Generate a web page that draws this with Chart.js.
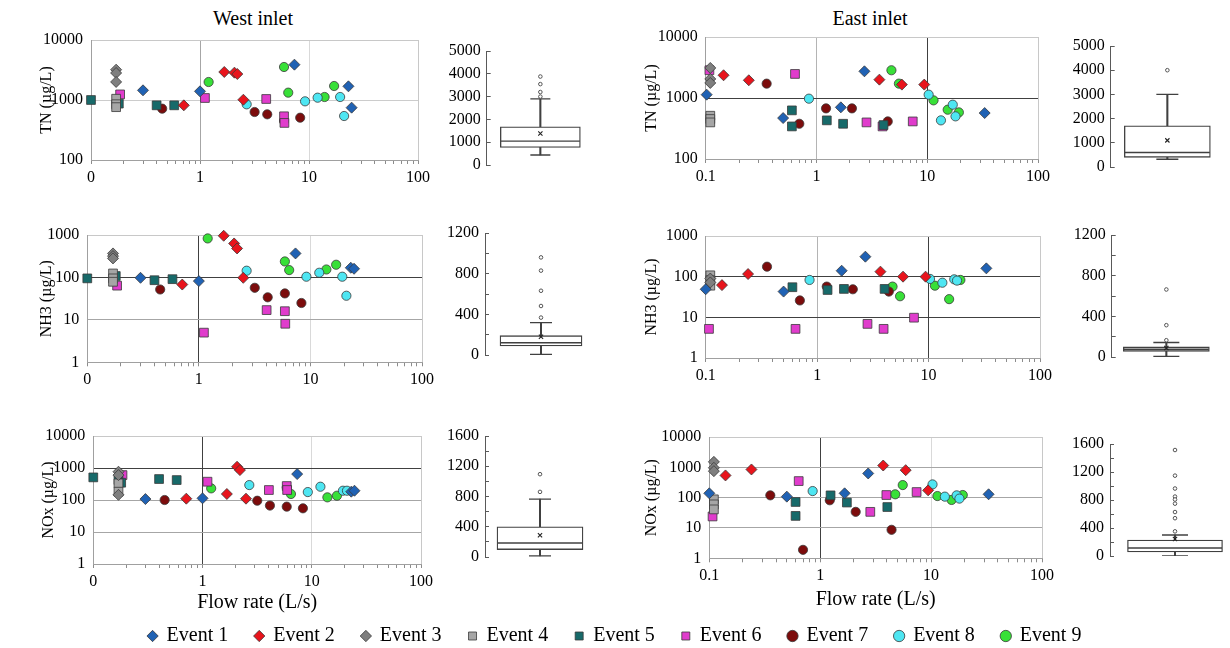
<!DOCTYPE html>
<html>
<head>
<meta charset="utf-8">
<script src="https://cdn.jsdelivr.net/npm/chart.js@4.4.1/dist/chart.umd.min.js"></script>
<style>
  html, body { margin: 0; padding: 0; background: #fff; overflow: hidden; }
  #page { position: relative; width: 1230px; height: 648px; overflow: hidden; font-family: 'Liberation Serif', 'Times New Roman', serif; }
  .head { position: absolute; top: 7px; font-size: 20px; color: #000; transform: translateX(-50%); white-space: nowrap; }
</style>
</head>
<body>
<div id="page">
  <div class="head" style="left:253px">West inlet</div>
  <div class="head" style="left:870px">East inlet</div>
</div>
<script>
        // events (legend order)
        const eventNames = ['Event 1', 'Event 2', 'Event 3', 'Event 4', 'Event 5', 'Event 6', 'Event 7', 'Event 8', 'Event 9'];
        const eventColors = ['#2062b4', '#e8141c', '#7f7f7f', '#a6a6a6', '#176a6a', '#e03ccc', '#7c0c0c', '#4ee6f2', '#38e038'];
        const eventShapes = ['rectRot', 'rectRot', 'rectRot', 'rect', 'rect', 'rect', 'circle', 'circle', 'circle'];
        const eventSizes = [5.5, 5.5, 5.5, 6.2, 6.2, 6.2, 4.6, 4.6, 4.6];

        // tick labels
        const westXTicks = ['0', '1', '10', '100'];
        const eastXTicks = ['0.1', '1', '10', '100'];
        const tnYTicks = [100, 1000, 10000];
        const nh3YTicks = [1, 10, 100, 1000];
        const noxYTicks = [1, 10, 100, 1000, 10000];

        // [flow rate (L/s), concentration (ug/L)] per event
        const westTN = [
            [[0.30, 1450], [1.0, 1395], [7.35, 3880], [23, 1690], [24.6, 745]],
            [[0.71, 815], [1.67, 2930], [2.07, 2855], [2.2, 2710], [2.5, 1010]],
            [[0.17, 3200], [0.17, 2820], [0.17, 2000]],
            [[0.17, 1050], [0.17, 850], [0.17, 760]],
            [[0.1, 1000], [0.18, 870], [0.40, 815], [0.58, 815]],
            [[0.185, 1240], [1.11, 1080], [4.05, 1040], [5.9, 535], [5.95, 415]],
            [[0.45, 717], [3.17, 631], [4.14, 577], [5.9, 447], [8.3, 507]],
            [[2.68, 847], [9.2, 950], [12.0, 1093], [19.3, 1122], [21, 541]],
            [[1.2, 1995], [5.9, 3548], [6.45, 1326], [13.9, 1122], [17, 1711]]
        ];
        const westNH3 = [
            [[0.30, 98], [1.0, 82], [7.35, 368], [23, 169], [24.6, 160]],
            [[0.71, 68], [1.67, 960], [2.07, 632], [2.2, 482], [2.5, 98]],
            [[0.17, 368], [0.17, 318], [0.17, 281]],
            [[0.17, 124], [0.17, 95], [0.17, 79]],
            [[0.1, 95], [0.18, 108], [0.40, 86], [0.58, 91]],
            [[0.185, 64], [1.11, 5.0], [4.05, 17], [5.9, 16], [5.95, 8.1]],
            [[0.45, 52], [3.17, 57], [4.14, 34], [5.9, 42], [8.3, 25]],
            [[2.68, 144], [9.2, 104], [12.0, 129], [19.3, 104], [21, 37]],
            [[1.2, 830], [5.9, 238], [6.45, 149], [13.9, 154], [17, 199]]
        ];
        const westNOx = [
            [[0.30, 107], [1.0, 113], [7.35, 646], [23, 182], [24.6, 195]],
            [[0.71, 110], [1.67, 154], [2.07, 1095], [2.2, 861], [2.5, 110]],
            [[0.17, 765], [0.17, 600], [0.17, 145]],
            [[0.17, 330], [0.17, 182]],
            [[0.1, 509], [0.17, 420], [0.18, 347], [0.40, 452], [0.58, 420]],
            [[0.185, 601], [1.11, 373], [4.05, 205], [5.9, 273], [5.95, 205]],
            [[0.45, 100], [3.17, 95], [4.14, 67], [5.9, 62], [8.3, 55]],
            [[2.68, 293], [9.2, 177], [12.0, 260], [19.3, 195], [21, 195]],
            [[1.2, 231], [5.9, 248], [6.45, 154], [13.9, 121], [17, 136]]
        ];
        const eastTN = [
            [[0.102, 1134], [0.5, 469], [1.66, 703], [2.71, 2740], [33, 567]],
            [[0.145, 2360], [0.245, 1952], [3.7, 2000], [5.9, 1657], [9.4, 1657]],
            [[0.11, 3110], [0.11, 2052], [0.11, 1765]],
            [[0.11, 512], [0.11, 452], [0.11, 398]],
            [[0.6, 627], [0.6, 342], [1.24, 430], [1.74, 378], [4.03, 360]],
            [[0.108, 2850], [0.64, 2480], [2.83, 398], [3.95, 342], [7.4, 413]],
            [[0.355, 1720], [0.7, 378], [1.22, 676], [2.09, 676], [4.4, 413]],
            [[0.855, 975], [10.3, 1134], [13.3, 430], [17, 777], [18, 500]],
            [[4.75, 2850], [5.55, 1720], [11.4, 915], [15.3, 643], [19.3, 581]]
        ];
        const eastNH3 = [
            [[0.1, 49], [0.5, 43], [1.66, 140], [2.71, 310], [33, 160]],
            [[0.14, 62], [0.24, 116], [3.7, 133], [5.9, 100], [9.4, 100]],
            [[0.11, 90], [0.11, 72]],
            [[0.11, 108], [0.11, 82], [0.11, 60]],
            [[0.6, 55], [1.24, 47], [1.74, 50], [4.03, 50]],
            [[0.107, 5.2], [0.64, 5.2], [2.83, 6.9], [3.95, 5.2], [7.4, 9.8]],
            [[0.355, 176], [0.7, 26], [1.22, 57], [2.09, 49], [4.4, 43]],
            [[0.855, 83], [10.3, 88], [13.3, 71], [17, 86], [18, 80]],
            [[4.75, 57], [5.55, 33], [11.4, 60], [15.3, 28], [19.3, 83]]
        ];
        const eastNOx = [
            [[0.1, 139], [0.5, 108], [1.66, 139], [2.71, 628], [33, 129]],
            [[0.14, 540], [0.24, 849], [3.7, 1148], [5.9, 807], [9.4, 174]],
            [[0.11, 1514], [0.11, 964], [0.11, 748]],
            [[0.11, 88], [0.11, 60], [0.11, 41]],
            [[0.6, 72], [0.6, 25], [1.24, 119], [1.74, 69], [4.03, 49]],
            [[0.107, 24], [0.64, 352], [2.83, 34], [3.95, 122], [7.4, 153]],
            [[0.355, 119], [0.7, 1.9], [1.22, 82], [2.09, 34], [4.4, 8.7]],
            [[0.855, 165], [10.3, 273], [13.3, 108], [17, 119], [18, 93]],
            [[4.75, 129], [5.55, 260], [11.4, 113], [15.3, 84], [19.3, 122]]
        ];

        // box plots: [lower whisker, Q1, median, Q3, upper whisker]
        const westTNBox = [437, 773, 1048, 1672, 2900];
        const westTNMean = 1384;
        const westTNOut = [3880, 3548, 3200, 3000];
        const westNH3Box = [5, 89, 121, 190, 318];
        const westNH3Mean = 180;
        const westNH3Out = [960, 830, 632, 482, 368];
        const westNOxBox = [15, 98, 186, 398, 765];
        const westNOxMean = 288;
        const westNOxOut = [1095, 861];
        const eastTNBox = [320, 400, 600, 1700, 3000];
        const eastTNMean = 1100;
        const eastTNOut = [4000];
        const eastNH3Box = [5, 56, 76, 99, 142];
        const eastNH3Mean = 89;
        const eastNH3Out = [664, 313, 165];
        const eastNOxBox = [2, 57, 114, 229, 300];
        const eastNOxMean = 243;
        const eastNOxOut = [1514, 1148, 964, 849, 807, 748, 628, 540, 352];

        const SERIF = "'Liberation Serif', 'Times New Roman', serif";
        const M = 20; // canvas margin around the plot area
        const DK = '#404040', MD = '#a6a6a6', LT = '#d9d9d9', FRAME = '#c8c8c8', AXIS = '#a0a0a0';

        function addCanvas(left, top, w, h) {
            const c = document.createElement('canvas');
            c.width = Math.round(w);
            c.height = Math.round(h);
            c.style.cssText = `position:absolute;left:${left}px;top:${top}px;width:${Math.round(w)}px;height:${Math.round(h)}px`;
            document.getElementById('page').appendChild(c);
            return c;
        }

        // fixed axis sizes so the plot area lands where we want it
        const fixWidth = w => s => { s.width = w; s.paddingTop = 0; s.paddingBottom = 0; };
        const fixHeight = h => s => { s.height = h; s.paddingLeft = 0; s.paddingRight = 0; };

        function logTicks(lo, hi) {
            const out = [];
            for (let d = lo; d < hi * 0.99; d *= 10) {
                for (let k = 1; k < 10; k++) out.push({ value: +(d * k).toPrecision(3), major: k === 1 });
            }
            out.push({ value: hi, major: true });
            return out;
        }

        function scatterPanel(p) {
            const [l, t, r, b] = p.area;
            const W = l - p.titleX + 9.6;
            const H = p.xTitle ? p.titleY + 12 - b : 26;
            const cl = Math.round(l - W - M), ct = Math.round(t - M);
            const cv = addCanvas(cl, ct, r + M - cl, b + H + M - ct);
            const yW = l - cl - M;
            const xH = cv.height - M - (b - ct);
            new Chart(cv, {
                type: 'scatter',
                data: {
                    datasets: p.data.map((pts, i) => ({
                        label: eventNames[i],
                        data: pts.map(([x, y]) => ({ x, y })),
                        pointStyle: eventShapes[i],
                        pointRadius: eventSizes[i],
                        pointHoverRadius: eventSizes[i],
                        backgroundColor: eventColors[i],
                        borderColor: '#3a3a3a',
                        borderWidth: 0.8,
                        clip: false
                    }))
                },
                options: {
                    responsive: false,
                    animation: false,
                    events: [],
                    layout: { padding: M, autoPadding: false },
                    plugins: { legend: { display: false }, tooltip: { enabled: false } },
                    scales: {
                        x: {
                            type: 'logarithmic', min: 0.1, max: 100,
                            afterBuildTicks: s => { s.ticks = logTicks(0.1, 100); },
                            afterFit: fixHeight(xH),
                            ticks: {
                                autoSkip: false, maxRotation: 0, padding: 4, color: '#000',
                                font: { family: SERIF, size: 16 },
                                callback: (v, i, ticks) => ticks[i].major ? p.xTicks[Math.round(Math.log10(v)) + 1] : ''
                            },
                            grid: {
                                tickLength: 4, tickColor: '#8c8c8c',
                                color: c => (c.tick && c.tick.major) ? (p.xGrid[c.tick.value] || FRAME) : 'rgba(0,0,0,0)'
                            },
                            border: { color: AXIS },
                            title: p.xTitle
                                ? { display: true, text: p.xTitle, color: '#000', font: { family: SERIF, size: 20 }, padding: 0 }
                                : { display: false }
                        },
                        y: {
                            type: 'logarithmic', min: p.yTicks[0], max: p.yTicks[p.yTicks.length - 1],
                            afterBuildTicks: s => { s.ticks = p.yTicks.map(v => ({ value: v, major: true })); },
                            afterFit: fixWidth(yW),
                            ticks: { padding: 8, color: '#000', font: { family: SERIF, size: 16 }, callback: v => String(v) },
                            grid: { drawTicks: false, color: c => c.tick ? (p.yGrid[c.tick.value] || FRAME) : FRAME },
                            border: { color: AXIS },
                            title: { display: true, text: p.yTitle, color: '#000', font: { family: SERIF, size: 16 }, padding: 0 }
                        }
                    }
                }
            });
        }

        function boxPanel(p) {
            const [l, t, r, b] = p.area;
            const W = 50;
            const cl = Math.round(l - W - M), ct = Math.round(t - M);
            const cv = addCanvas(cl, ct, r + M - cl, b + M - ct);
            const yW = l - cl - M;
            const [lo, q1, med, q3, hi] = p.stats;
            const at = v => ({ x: 'b', y: v });
            const ink = '#404040';
            new Chart(cv, {
                type: 'bar',
                data: {
                    labels: ['b'],
                    datasets: [
                        { type: 'line', data: p.outliers.map(at), showLine: false, pointStyle: 'circle', pointRadius: 1.8,
                          pointBackgroundColor: '#fff', pointBorderColor: '#555', pointBorderWidth: 1, clip: false },
                        { type: 'line', data: [at(p.mean)], showLine: false, pointStyle: 'crossRot', pointRadius: 3,
                          pointBorderColor: '#222', pointBorderWidth: 1.1 },
                        { type: 'line', data: [at(med)], showLine: false, pointStyle: 'line', pointRadius: p.boxW / 2 - 0.5,
                          pointBorderColor: ink, pointBorderWidth: 1.4 },
                        { type: 'line', data: [at(lo), at(hi)], showLine: false, pointStyle: 'line', pointRadius: p.capW / 2,
                          pointBorderColor: ink, pointBorderWidth: 1.4 },
                        { data: [[q1, q3]], backgroundColor: '#fff', borderColor: ink, borderWidth: 1.3,
                          borderSkipped: false, barThickness: p.boxW, grouped: false },
                        { data: [[lo, q1]], backgroundColor: ink, borderWidth: 0, barThickness: 1.4, grouped: false },
                        { data: [[q3, hi]], backgroundColor: ink, borderWidth: 0, barThickness: 1.4, grouped: false }
                    ]
                },
                options: {
                    responsive: false,
                    animation: false,
                    events: [],
                    layout: { padding: M, autoPadding: false },
                    plugins: { legend: { display: false }, tooltip: { enabled: false } },
                    scales: {
                        x: { display: false },
                        y: {
                            min: 0, max: p.yMax,
                            afterBuildTicks: s => {
                                const tk = [];
                                for (let v = 0; v <= p.yMax; v += p.step) tk.push({ value: v });
                                s.ticks = tk;
                            },
                            afterFit: fixWidth(yW),
                            ticks: {
                                autoSkip: false, padding: 10, color: '#000', font: { family: SERIF, size: 16 },
                                callback: v => (v % p.labelStep === 0) ? String(v) : ''
                            },
                            grid: { drawOnChartArea: false, tickLength: -4, tickColor: '#595959' },
                            border: { color: '#595959', width: 1 }
                        }
                    }
                }
            });
        }

        // scatter panels
        scatterPanel({ area: [91, 40, 418, 160], yTicks: tnYTicks, xTicks: westXTicks, data: westTN,
            xGrid: { 1: '#a6a6a6', 10: LT }, yGrid: { 1000: '#cccccc' }, yTitle: 'TN (µg/L)', titleX: 47 });
        scatterPanel({ area: [87.3, 235, 421.7, 362.3], yTicks: nh3YTicks, xTicks: westXTicks, data: westNH3,
            xGrid: { 1: DK, 10: LT }, yGrid: { 100: DK, 10: MD }, yTitle: 'NH3 (µg/L)', titleX: 47 });
        scatterPanel({ area: [93.3, 435.7, 420.7, 564], yTicks: noxYTicks, xTicks: westXTicks, data: westNOx,
            xGrid: { 1: DK, 10: LT }, yGrid: { 1000: DK, 100: MD, 10: MD }, yTitle: 'NOx (µg/L)', titleX: 49,
            xTitle: 'Flow rate (L/s)', titleY: 603 });
        scatterPanel({ area: [705.7, 37.3, 1038, 159], yTicks: tnYTicks, xTicks: eastXTicks, data: eastTN,
            xGrid: { 1: '#b4b4b4', 10: DK }, yGrid: { 1000: DK }, yTitle: 'TN (µg/L)', titleX: 652 });
        scatterPanel({ area: [705.7, 236, 1040, 358], yTicks: nh3YTicks, xTicks: eastXTicks, data: eastNH3,
            xGrid: { 1: '#b4b4b4', 10: DK }, yGrid: { 100: DK, 10: DK }, yTitle: 'NH3 (µg/L)', titleX: 652 });
        scatterPanel({ area: [709.3, 436.7, 1041.7, 558.3], yTicks: noxYTicks, xTicks: eastXTicks, data: eastNOx,
            xGrid: { 1: DK, 10: LT }, yGrid: { 1000: MD, 100: MD, 10: MD }, yTitle: 'NOx (µg/L)', titleX: 652,
            xTitle: 'Flow rate (L/s)', titleY: 600 });

        // box plots
        boxPanel({ area: [486.7, 50.7, 594, 165], yMax: 5000, step: 1000, labelStep: 1000,
            stats: westTNBox, mean: westTNMean, outliers: westTNOut, boxW: 80, capW: 20 });
        boxPanel({ area: [485, 233.3, 597, 355], yMax: 1200, step: 200, labelStep: 400,
            stats: westNH3Box, mean: westNH3Mean, outliers: westNH3Out, boxW: 82, capW: 22 });
        boxPanel({ area: [485, 436, 595, 556.7], yMax: 1600, step: 200, labelStep: 400,
            stats: westNOxBox, mean: westNOxMean, outliers: westNOxOut, boxW: 86, capW: 22 });
        boxPanel({ area: [1110.7, 45.7, 1224, 166.7], yMax: 5000, step: 1000, labelStep: 1000,
            stats: eastTNBox, mean: eastTNMean, outliers: eastTNOut, boxW: 86, capW: 22 });
        boxPanel({ area: [1111.7, 235, 1221, 356.7], yMax: 1200, step: 200, labelStep: 400,
            stats: eastNH3Box, mean: eastNH3Mean, outliers: eastNH3Out, boxW: 86, capW: 26 });
        boxPanel({ area: [1110, 444, 1240, 556], yMax: 1600, step: 200, labelStep: 400,
            stats: eastNOxBox, mean: eastNOxMean, outliers: eastNOxOut, boxW: 95, capW: 26 });

        // shared legend
        new Chart(addCanvas(0, 599, 1230, 100), {
            type: 'scatter',
            data: {
                datasets: eventNames.map((name, i) => ({
                    label: name, data: [], pointStyle: eventShapes[i],
                    backgroundColor: eventColors[i], borderColor: '#3a3a3a', borderWidth: 0.8
                }))
            },
            options: {
                responsive: false,
                animation: false,
                events: [],
                layout: { padding: 0, autoPadding: false },
                scales: { x: { display: false }, y: { display: false } },
                plugins: {
                    tooltip: { enabled: false },
                    legend: {
                        position: 'top',
                        labels: {
                            usePointStyle: true, boxWidth: 8, boxHeight: 8, padding: 27,
                            color: '#000', font: { family: SERIF, size: 20 }
                        }
                    }
                }
            }
        });
</script>
</body>
</html>
